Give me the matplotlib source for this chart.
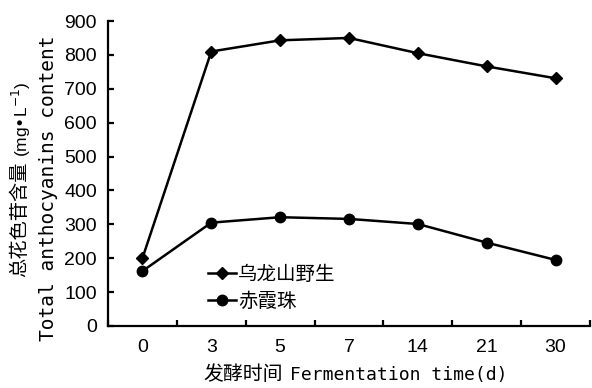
import matplotlib
matplotlib.use("Agg")
import matplotlib.pyplot as plt

categories = ["0", "3", "5", "7", "14", "21", "30"]
wulongshan = [200, 810, 843, 850, 805, 766, 731]
chixiazhu = [162, 305, 321, 316, 301, 246, 195]
series_names = ["乌龙山野生", "赤霞珠"]
yticks = [0, 100, 200, 300, 400, 500, 600, 700, 800, 900]

W, H = 592, 388
fig = plt.figure(figsize=(W / 100, H / 100), dpi=100)
ax = fig.add_axes([108 / W, (H - 326) / H, (590 - 108) / W, (326 - 21) / H])

x = list(range(len(categories)))
ax.plot(x, wulongshan, color="black", lw=1.8, marker="D", ms=6.5, label=series_names[0])
ax.plot(x, chixiazhu, color="black", lw=1.8, marker="o", ms=7.5, label=series_names[1])

ax.set_xlim(-0.5, len(categories) - 0.5)
ax.set_ylim(0, 900)
ax.set_yticks(yticks)
ax.set_yticklabels([str(v) for v in yticks], family="Liberation Sans", fontsize=14)
ax.set_xticks(x)
ax.set_xticklabels(categories, family="Liberation Sans", fontsize=14)
ax.set_xticks([i + 0.5 for i in range(-1, len(categories))], minor=True)
ax.tick_params(axis="x", which="major", length=0, pad=9)
ax.tick_params(axis="x", which="minor", direction="in", length=4, width=1.6)
ax.tick_params(axis="y", direction="in", length=4, width=1.6, pad=8)

for s in ["top", "right"]:
    ax.spines[s].set_visible(False)
for s in ["left", "bottom"]:
    ax.spines[s].set_linewidth(1.6)

leg = ax.legend(loc="upper left", bbox_to_anchor=(198 / W, (H - 254) / H),
                bbox_transform=fig.transFigure, frameon=False,
                prop={"family": "Noto Sans CJK SC", "size": 14},
                handlelength=1.45, handletextpad=0.1, labelspacing=0.3, borderpad=0)

# x label (Chinese part + Latin part)
fig.text(203 / W, (H - 375) / H, "发酵时间", family="Noto Sans CJK SC", fontsize=14.3,
         ha="left", va="center")
fig.text(507 / W, (H - 375) / H, "Fermentation time(d)",
         family="DejaVu Sans Mono", fontsize=13, ha="right", va="center")

# y label: Chinese line
fig.text(20 / W, (H - 277) / H, "总花色苷含量", family="Noto Sans CJK SC", fontsize=13.9,
         rotation=90, ha="center", va="bottom")
fig.text(21 / W, (H - 157) / H, "(mg•L$^{-1}$)", family="Liberation Sans", fontsize=12.5,
         rotation=90, ha="center", va="bottom")
# y label: English line
fig.text(49 / W, (H - 188) / H, "Total anthocyanins content",
         family="DejaVu Sans Mono", fontsize=14, rotation=90, ha="center", va="center")

fig.savefig("out.png", dpi=100)
